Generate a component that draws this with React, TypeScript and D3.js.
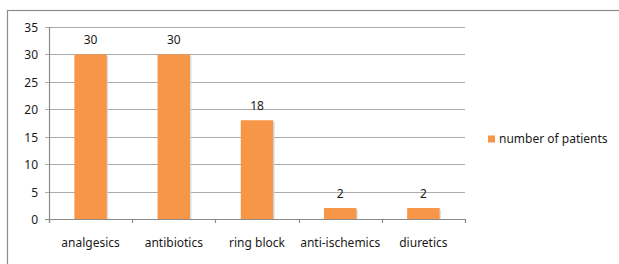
import React from "react";
import * as d3 from "d3";

const categories = ["analgesics", "antibiotics", "ring block", "anti-ischemics", "diuretics"];
const patients = [30, 30, 18, 2, 2];
const yTicks = [0, 5, 10, 15, 20, 25, 30, 35];
const seriesName = "number of patients";

const W = 619;
const H = 264;
const plot = { left: 49, right: 465, top: 27, bottom: 219 };
const FONT = "'Noto Sans', sans-serif";
const ORANGE = "#F79646";
const TEXT = "#1a1a1a";

export default function App() {
  const x = d3.scaleBand<string>().domain(categories).range([plot.left, plot.right]).padding(0);
  const y = d3.scaleLinear().domain([0, 35]).range([plot.bottom, plot.top]);
  const bw = x.bandwidth() * 0.39;
  const tickXs = [...categories.map((c) => x(c) as number), plot.right];

  return (
    <svg
      width={W}
      height={H}
      style={{ position: "absolute", left: 0, top: 0, background: "#fff" }}
      fontFamily={FONT}
    >
      <rect x={7.5} y={10.5} width={W} height={H} fill="#fff" stroke="#8c8c8c" strokeWidth={1.2} />
      {yTicks.map((t) => (
        <g key={t}>
          <line x1={plot.left - 4} x2={plot.right} y1={Math.round(y(t)) + 0.5} y2={Math.round(y(t)) + 0.5} stroke={t === 0 ? "#8a8a8a" : "#ababab"} strokeWidth={1.2} />
          <text x={38} y={Math.round(y(t)) + 4.5} textAnchor="end" fontSize={12} fill={TEXT}>
            {t}
          </text>
        </g>
      ))}
      <line x1={plot.left + 0.5} x2={plot.left + 0.5} y1={plot.top} y2={plot.bottom + 4} stroke="#8a8a8a" strokeWidth={1.2} />
      {tickXs.map((tx, i) => (
        <line key={i} x1={Math.round(tx) + 0.5} x2={Math.round(tx) + 0.5} y1={plot.bottom} y2={plot.bottom + 4} stroke="#8a8a8a" strokeWidth={1.2} />
      ))}
      {categories.map((c, i) => {
        const cx = (x(c) as number) + x.bandwidth() / 2;
        const top = y(patients[i]);
        return (
          <g key={c}>
            <rect x={cx - bw / 2 + 1.5} y={top + 1.5} width={bw} height={plot.bottom - top - 1.5} fill="#c9d3e0" opacity={0.7} />
            <rect x={cx - bw / 2} y={top} width={bw} height={plot.bottom - top} fill={ORANGE} />
            <text x={cx} y={top - 10} textAnchor="middle" fontSize={12} fill={TEXT}>
              {patients[i]}
            </text>
            <text x={cx} y={247} textAnchor="middle" fontSize={12} fill={TEXT}>
              {c}
            </text>
          </g>
        );
      })}
      <rect x={488} y={135.5} width={7} height={7} fill={ORANGE} />
      <text x={499} y={143} fontSize={12} fill={TEXT}>
        {seriesName}
      </text>
    </svg>
  );
}
